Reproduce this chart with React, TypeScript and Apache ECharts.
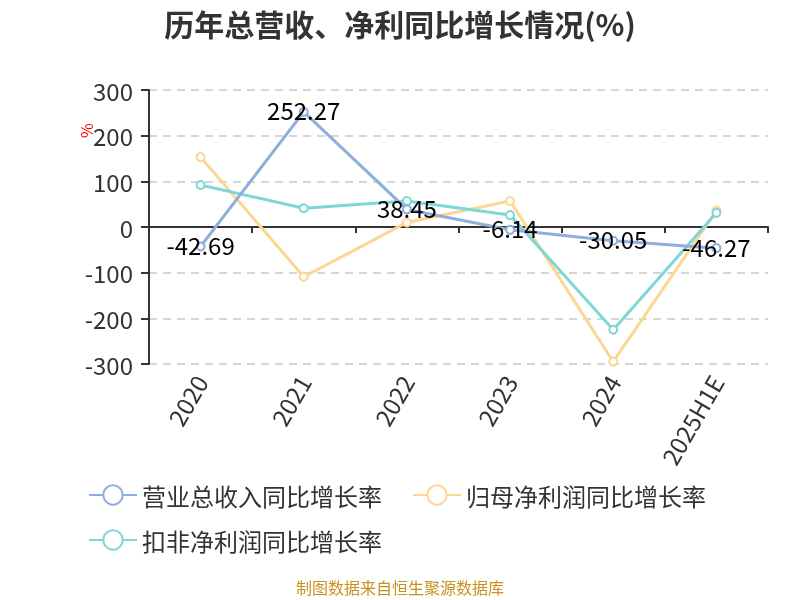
import React, { useEffect, useRef } from "react";
import * as echarts from "echarts";

const categories = ["2020", "2021", "2022", "2023", "2024", "2025H1E"];
const revenueGrowth = [-42.69, 252.27, 38.45, -6.14, -30.05, -46.27];
const netProfitGrowth = [153, -109, 10, 57, -295, 36];
const deductedProfitGrowth = [92, 41, 57, 26, -225, 31];
const seriesNames = ["营业总收入同比增长率", "归母净利润同比增长率", "扣非净利润同比增长率"];
const colors = ["#8eaedc", "#fdd691", "#7fd6d6"];

const FONT = "'Noto Sans CJK SC', 'Noto Sans', sans-serif";

export default function App() {
  const ref = useRef<HTMLDivElement>(null);
  useEffect(() => {
    const chart = echarts.init(ref.current!, null, { renderer: "svg" });
    const legendBase = {
      left: 83,
      itemWidth: 48,
      itemHeight: 24,
      itemGap: 30,
      textStyle: { fontSize: 24, color: "#333", fontFamily: FONT },
    };
    chart.setOption({
      animation: false,
      textStyle: { fontFamily: FONT },
      title: {
        text: "历年总营收、净利同比增长情况(%)",
        left: "center",
        top: 3,
        textStyle: { fontSize: 30, fontWeight: "bold", color: "#333", fontFamily: FONT },
      },
      graphic: [
        {
          type: "text",
          left: "center",
          top: 579,
          style: { text: "制图数据来自恒生聚源数据库", fill: "#c8921e", fontSize: 16, fontFamily: FONT },
        },
        {
          type: "text",
          x: 78,
          y: 138,
          rotation: Math.PI / 2,
          style: { text: "%", fill: "red", fontSize: 16, fontFamily: FONT },
        },
      ],
      legend: [
        { ...legendBase, top: 478, data: seriesNames.slice(0, 2) },
        { ...legendBase, top: 523, data: seriesNames.slice(2) },
      ],
      grid: { left: 149, right: 32, top: 90, bottom: 236, containLabel: false },
      xAxis: {
        type: "category",
        data: categories,
        boundaryGap: true,
        axisLine: { show: true, onZero: true, lineStyle: { color: "#333", width: 2 } },
        axisTick: { show: true, lineStyle: { color: "#333", width: 2 }, length: 6 },
        axisLabel: {
          rotate: 60,
          fontSize: 24,
          color: "#333",
          interval: 0,
          margin: 13,
        },
      },
      yAxis: {
        type: "value",
        min: -300,
        max: 300,
        interval: 100,
        axisLine: { show: true, lineStyle: { color: "#333", width: 2 } },
        axisTick: { show: true, lineStyle: { color: "#333", width: 2 }, length: 8 },
        axisLabel: { fontSize: 24, color: "#333", margin: 16 },
        splitLine: { show: true, lineStyle: { type: [8, 6], color: "#c8c8c8", width: 1.5 } },
      },
      series: [
        {
          name: seriesNames[0],
          type: "line",
          data: revenueGrowth,
          symbol: "emptyCircle",
          symbolSize: 8,
          lineStyle: { width: 3, color: colors[0] },
          itemStyle: { color: colors[0] },
          label: {
            show: true,
            position: "inside",
            offset: [0, -2],
            color: "#000",
            fontSize: 24,
            formatter: (p: any) => p.value.toFixed(2),
          },
          z: 3,
        },
        {
          name: seriesNames[1],
          type: "line",
          data: netProfitGrowth,
          symbol: "emptyCircle",
          symbolSize: 8,
          lineStyle: { width: 3, color: colors[1] },
          itemStyle: { color: colors[1] },
          z: 2,
        },
        {
          name: seriesNames[2],
          type: "line",
          data: deductedProfitGrowth,
          symbol: "emptyCircle",
          symbolSize: 8,
          lineStyle: { width: 3, color: colors[2] },
          itemStyle: { color: colors[2] },
          z: 2,
        },
      ],
    });
    return () => chart.dispose();
  }, []);
  return <div ref={ref} style={{ position: "fixed", left: 0, top: 0, width: 800, height: 600 }} />;
}
